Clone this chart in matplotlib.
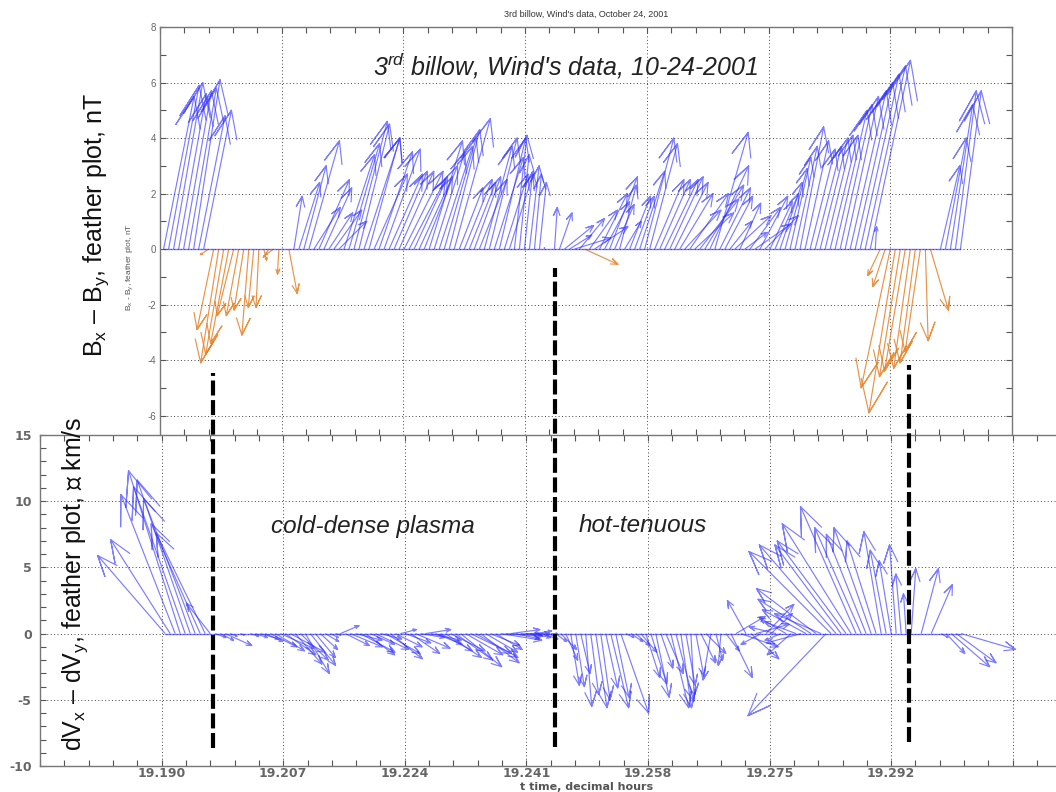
import numpy as np
import matplotlib
matplotlib.use("Agg")
import matplotlib.pyplot as plt
from matplotlib import transforms
from matplotlib.collections import LineCollection
from matplotlib.ticker import FixedLocator, MultipleLocator

plt.rcParams['mathtext.fontset'] = 'custom'
plt.rcParams['mathtext.rm'] = 'Liberation Sans'
plt.rcParams['mathtext.it'] = 'Liberation Sans:italic'
plt.rcParams['mathtext.bf'] = 'Liberation Sans:bold'
plt.rcParams['font.family'] = ['Liberation Sans', 'DejaVu Sans']

# ---------------- data ----------------
t_start = 19.1905      # decimal hours, first sample
t_step = 0.0007        # sampling step, decimal hours

# magnetic field feather components (nT)
top_u = [1.1, 1.1, 1.05, 1.0, 1.0, 1.0, 0.95, 0.95, 1.0,
         -0.3, -0.6, -0.65, -0.65, -0.65, -0.6, -0.45, -0.35, -0.25, -0.2, -0.1, 0.1, -0.2, -0.3, -0.05, 0.0, 0.3,
         0.3, 0.75, 0.8, 1.1, 0.95, 1.1, 1.0, 0.85, 1.0, 1.0, 1.1, 1.1, 1.2, 1.1, 1.3, 1.1, 1.2, 1.2, 1.3, 1.2,
         1.2, 1.25, 1.4, 1.3,
         1.2, 1.2, 1.2, 1.2, 1.1, 1.2, 1.15, 1.1, 1.3, 0.85, 1.0, 0.95, 0.95, 1.0, 1.0, 1.0, 1.05, 0.95, 0.85, 0.85,
         0.45, 0.35, 0.3, 0.35, 0.25, 0.25, 0.0, 0.0, 0.1, 0.45, 1.05,
         0.8, 1.3, 0.9, 1.2, 1.0, 1.2, 1.0, 0.9, 1.0, 0.7, 0.6, 0.6, 0.75, 0.7, 0.9, 1.05, 1.0, 1.05, 1.1, 1.2,
         1.2, 1.2, 1.2, 1.3, 1.4, 1.4, 1.4, 1.4, 1.4, 1.2, 1.1, 1.0, 0.8, 1.3, 0.75, 0.8, 1.1, 1.3, 1.0, 1.2,
         0.8, 0.85, 0.8, 0.8, 0.75, 0.8, 0.85, 0.85, 0.9, 0.95, 1.0, 1.0, 1.0, 1.15, 1.15, 1.2, 1.3, 1.35, 1.4,
         1.45, 1.45, 0.05,
         -0.45, -0.45, -1.05, -0.95, -0.75, -0.75, -0.6, -0.55, -0.55, 0.1, 0.65, 0.0,
         0.7, 0.75, 0.8, 0.75, 0.75]
top_v = [5.5, 5.9, 6.0, 5.6, 5.7, 5.8, 6.1, 4.8, 5.0,
         -0.2, -2.9, -4.1, -3.8, -3.4, -2.4, -2.4, -2.2, -3.1, -2.1, -2.1, -0.4, -0.3, -0.2, -0.9, 0.0, -1.6,
         1.9, 2.4, 3.0, 3.9, 1.5, 2.5, 2.2, 1.3, 1.4, 1.0, 3.4, 3.8, 4.6, 4.5, 4.0, 4.0, 2.7, 3.5, 3.6, 2.7,
         2.8, 2.8, 2.8, 2.5,
         2.6, 2.6, 3.0, 3.9, 3.5, 3.7, 4.0, 4.3, 4.7, 2.2, 2.5, 2.4, 2.6, 2.5, 3.7, 4.0, 3.3, 4.0, 2.7, 2.7,
         4.1, 3.4, 2.8, 3.0, 2.7, 2.4, 0.05, 0.0, 1.5, 1.3, 0.85,
         0.5, 0.4, 1.1, -0.55, 1.4, 0.8, 2.0, 1.7, 2.6, 1.6, 2.3, 1.0, 1.9, 1.9, 2.8, 4.0, 3.8, 2.5, 2.5, 2.5,
         2.6, 2.4, 2.0, 1.4, 2.0, 1.3, 1.8, 2.3, 3.0, 4.2, 2.2, 1.9, 1.0, 1.2, 1.65, 0.6, 1.5, 0.9, 1.9, 1.2,
         1.7, 2.0, 2.4, 2.9, 3.3, 3.7, 4.4, 3.9, 3.6, 3.7, 4.0, 4.1, 4.1, 5.0, 5.2, 5.5, 5.7, 6.0, 6.3,
         6.6, 6.8, 0.8,
         -0.95, -1.35, -5.0, -5.9, -4.6, -4.4, -4.3, -4.1, -3.7, -3.3, -2.2, 0.0,
         3.0, 4.0, 5.2, 5.7, 5.7]

# velocity perturbation feather components (km/s, arbitrary scale)
bot_u = [-5.1, -4.5, -4.1, -3.9, -3.9, -4.0, -3.9, -3.7, -3.7, -1.8,
         0.8, 1.0, 2.0, 0.5, 0.0, 0.3, 0.0, 0.6, 0.9, 1.4,
         1.3, 2.0, 2.2, 2.5, 2.3, 2.6, 2.0, 2.1, 1.8, 1.9,
         1.5, 1.3, 1.0, 0.6, 0.4, 1.4, 1.8, 2.4, 2.0, 2.6,
         2.2, 1.8, 2.5, 1.6, 2.6, 2.4, 2.0, 1.2, 1.9, 2.2,
         2.6, 1.8, 1.9, 2.3, 2.0, 2.4, 2.7, 2.6, 2.8, 3.1,
         2.8, 3.1, 3.2, 2.9, 2.4, 2.2, 2.0, 3.1, 2.8, 2.2,
         1.8, 1.6, 1.8,
         1.5, 1.2, 1.3, 0.8, 0.5, 0.8, 1.2, 0.9,
         0.65, 0.65, 0.7, 0.45, 0.6, 0.85, 0.7, 0.9, 1.35, 1.0,
         2.1, 0.6, 0.9, 1.0, 1.2, 1.05, 1.2, 1.0, 0.9, 1.3,
         1.35, 1.35, 0.8, 0.7, 0.25, 0.6, 1.1, 1.5,
         -0.6, 0.5, -0.2, 1.0, 1.6, 2.2, 2.8, -1.4, 2.1, 2.5, -1.5, 2.1, 1.6, -2.0,
         -1.2, -2.0, -1.8, -2.4, -2.6, -3.3, -4.0, -4.5, -3.5, -5.9, -6.2, -5.8, -5.0, -5.2, -5.2, -4.2,
         -3.5, -3.0, -2.8, -2.2, -1.3, -1.2, -0.9, -0.5, -0.4, -0.2,
         0.35, 0.0, 1.3, 0.0, 1.6, 0.0, 0.5, 1.4, 2.9, 3.0, 4.1]
bot_v = [5.9, 7.1, 10.5, 12.3, 11.1, 11.6, 10.2, 8.3, 7.6, 2.3,
         -0.3, -0.5, -0.9, -0.2, 0.0, -0.1, 0.0, -0.2, -0.3, -0.4,
         -0.6, -1.0, -1.3, -1.1, -1.6, -1.4, -2.3, -2.0, -3.0, -2.4,
         -1.8, -1.2, -0.6, -0.3, -0.1, 0.6, -0.9, -1.0, -0.5, -1.4,
         -1.6, -0.8, -1.2, -0.4, -1.5, -1.9, -1.0, 0.3, -0.7, -1.5,
         -1.1, -0.3, 0.3, -0.5, -0.8, -1.3, -1.8, -1.3, -2.0, -2.5,
         -1.6, -1.5, -1.8, -2.2, -1.4, -0.9, -1.2, -0.5, -0.2, 0.3,
         -0.4, -0.1, 0.0,
         -0.3, 0.2, -0.4, -0.2, 0.0, -0.6, -1.2, -2.0,
         -3.9, -4.0, -3.0, -5.5, -4.6, -5.6, -5.0, -4.1, -5.6, -4.8,
         -6.0, -0.3, -0.6, -0.9, -1.4, -3.3, -3.8, -4.8, -2.6, -3.0,
         -5.6, -5.1, -5.6, -3.9, -4.7, -3.2, -2.2, -1.5,
         -3.5, -2.0, -2.4, -1.3, -3.3, 1.3, -1.0, 2.5, -1.9, 0.7, -0.8, 2.2, 1.5, 0.5,
         -0.5, 1.2, -1.6, 0.9, -0.7, 1.8, 2.6, 3.4, 1.5, -6.2, 6.2, 6.7, 6.7, 7.0, 8.3, 9.6,
         8.0, 7.5, 8.0, 7.0, 7.7, 6.3, 5.5, 6.7, 4.5, 3.0,
         4.9, 0.0, 4.9, 0.0, 3.7, 0.0, -0.3, -1.5, -2.5, -2.2, -1.2]

time_ticks = [19.190, 19.207, 19.224, 19.241, 19.258, 19.275, 19.292, 19.309]
time_labels = ['19.190', '19.207', '19.224', '19.241', '19.258', '19.275', '19.292', '']
top_yticks = [-6, -4, -2, 0, 2, 4, 6, 8]
bot_yticks = [-10, -5, 0, 5, 10, 15]

boundary_times = [19.1972, 19.2450, 19.2945]          # regime boundaries
boundary_fig_y = [(0.056, 0.529), (0.057, 0.662), (0.063, 0.539)]

times = t_start + t_step * np.arange(len(top_u))

# ---------------- figure ----------------
W, H = 1056, 792
fig = plt.figure(figsize=(W / 100, H / 100), dpi=100)
fig.patch.set_facecolor('white')

top_pos = [160 / W, 1 - 435 / H, 852 / W, 408 / H]
bot_pos = [40 / W, 1 - 766 / H, 1060 / W, 331 / H]
ax_top = fig.add_axes(top_pos)
ax_bot = fig.add_axes(bot_pos)

ax_top.set_xlim(19.190, 19.309)
ax_top.set_ylim(-6.70, 8)
ax_bot.set_xlim(19.173, 19.3212)
ax_bot.set_ylim(-10, 15)

blue = (0.18, 0.18, 1.0, 0.62)
orange = (0.90, 0.50, 0.15, 0.85)


def aspect_factor(ax, pos):
    x0, x1 = ax.get_xlim()
    y0, y1 = ax.get_ylim()
    wpx = pos[2] * W
    hpx = pos[3] * H
    return ((x1 - x0) / wpx) / ((y1 - y0) / hpx)


def draw_feather(ax, t, u, v, kx, pos_color, neg_color):
    shape = np.array([0, 1, 0.8 + 0.08j, 1, 0.8 - 0.08j])
    segs, cols = [], []
    for ti, ui, vi in zip(t, u, v):
        pts = shape * complex(ui, vi)
        segs.append(np.column_stack([ti + pts.real * kx, pts.imag]))
        cols.append(neg_color if vi < 0 else pos_color)
    ax.add_collection(LineCollection(segs, colors=cols, linewidths=0.85, zorder=3))
    ax.plot([t[0], t[-1]], [0, 0], color=pos_color, lw=1.0, zorder=3)


draw_feather(ax_top, times, top_u, top_v, aspect_factor(ax_top, top_pos), blue, orange)
draw_feather(ax_bot, times, bot_u, bot_v, aspect_factor(ax_bot, bot_pos), blue, blue)

grid_style = dict(linestyle=(0, (1, 2.5)), color='#444444', linewidth=0.7)
minor_x = np.arange(19.173, 19.33, 0.0034)
for ax in (ax_top, ax_bot):
    ax.xaxis.set_major_locator(FixedLocator(time_ticks))
    ax.xaxis.set_minor_locator(FixedLocator(minor_x))
    ax.yaxis.set_minor_locator(MultipleLocator(1))
    ax.grid(True, which='major', **grid_style)
    ax.set_axisbelow(True)
    ax.tick_params(which='both', direction='in', length=4, width=0.8, color='#555555',
                   top=True, right=True)
    for s in ax.spines.values():
        s.set_color('#777777')
        s.set_linewidth(1.0)

ax_top.set_yticks(top_yticks)
ax_top.set_yticklabels([str(v) for v in top_yticks])
ax_top.tick_params(axis='y', labelsize=7, labelcolor='#666666', pad=3)
ax_top.tick_params(axis='x', labelbottom=False, bottom=False)
ax_top.spines['bottom'].set_visible(False)

ax_bot.set_yticks(bot_yticks)
ax_bot.set_yticklabels([str(v) for v in bot_yticks], fontfamily='DejaVu Sans',
                       fontweight='bold', fontsize=9, color='#666666')
ax_bot.set_xticklabels(time_labels, fontfamily='DejaVu Sans', fontweight='bold',
                       fontsize=9, color='#666666')
ax_bot.tick_params(axis='y', pad=6)
ax_bot.tick_params(axis='x', pad=1)

# regime boundaries spanning both panels
trans = transforms.blended_transform_factory(ax_bot.transData, fig.transFigure)
for tb, (ya, yb) in zip(boundary_times, boundary_fig_y):
    ax_bot.plot([tb, tb], [ya, yb], transform=trans, color='black', lw=3.0,
                linestyle=(0, (3.6, 1.1)), clip_on=False, zorder=20)

# texts
fig.text(586 / W, 1 - 14 / H, "3rd billow, Wind's data, October 24, 2001",
         fontsize=6.5, ha='center', va='center', color='#333333')
fig.text(566 / W, 1 - 66 / H, r"3$^{\mathit{rd}}$ billow, Wind's data, 10-24-2001",
         fontsize=18, style='italic', ha='center', va='center', color='#222222')
fig.text(96 / W, 1 - 225 / H, r"B$_\mathrm{x}$ – B$_\mathrm{y}$, feather plot, nT",
         fontsize=18, rotation=90, ha='center', va='center', color='#111111')
fig.text(130 / W, 1 - 267 / H, r"B$_\mathrm{x}$ - B$_\mathrm{y}$, feather plot, nT",
         fontsize=6, rotation=90, ha='center', va='center', color='#555555')
fig.text(75 / W, 1 - 584 / H, r"dV$_\mathrm{x}$ – dV$_\mathrm{y}$, feather plot, ∝ km/s",
         fontsize=18, rotation=90, ha='center', va='center', color='#111111')
fig.text(373 / W, 1 - 526 / H, "cold-dense plasma", fontsize=17.5, style='italic',
         ha='center', va='center', color='#222222')
fig.text(643 / W, 1 - 526 / H, "hot-tenuous", fontsize=17.5, style='italic',
         ha='center', va='center', color='#222222')
fig.text(587 / W, 1 - 786.5 / H, "t time, decimal hours", fontsize=8, fontweight='bold',
         family='DejaVu Sans', ha='center', va='center', color='#555555')

fig.savefig("out.png", dpi=100)
